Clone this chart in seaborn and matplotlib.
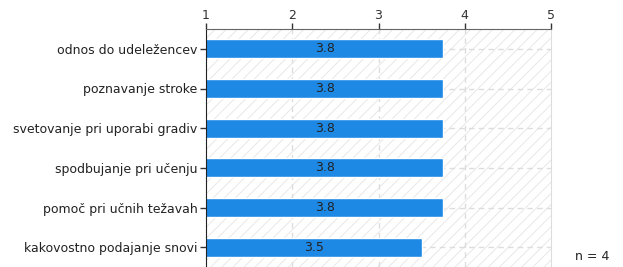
import matplotlib
matplotlib.use("Agg")
import matplotlib.pyplot as plt
import seaborn as sns
import pandas as pd
from matplotlib.patches import Rectangle

categories = ["odnos do udeležencev", "poznavanje stroke", "svetovanje pri uporabi gradiv",
              "spodbujanje pri učenju", "pomoč pri učnih težavah", "kakovostno podajanje snovi"]
values = [3.75, 3.75, 3.75, 3.75, 3.75, 3.5]
x_ticks = [1, 2, 3, 4, 5]
n_label = "n = 4"

sns.set_style("white")
plt.rcParams["font.family"] = ["DejaVu Sans"]
plt.rcParams["hatch.linewidth"] = 0.6
plt.rcParams["hatch.color"] = "#e4e4e4"

df = pd.DataFrame({"kategorija": categories, "vrednost": values})

fig = plt.figure(figsize=(6.23, 2.67), dpi=100)
ax = fig.add_axes([206 / 623, 0.0, 345 / 623, 238 / 267])

# hatched background
ax.add_patch(Rectangle((0, 0), 1, 1, transform=ax.transAxes, facecolor="white",
                       hatch="///", edgecolor="#e4e4e4", linewidth=0, zorder=0))

sns.barplot(data=df, x="vrednost", y="kategorija", orient="h", width=0.48,
            color="#1e88e5", saturation=1, ax=ax, zorder=3)

ax.set_xlim(1, 5)
ax.set_ylim(5.5, -0.5)
ax.xaxis.tick_top()
ax.set_xticks(x_ticks)
ax.set_xlabel("")
ax.set_ylabel("")

for xv in x_ticks[1:-1]:
    ax.axvline(xv, color="#dddddd", lw=1, ls=(0, (4, 3)), zorder=1)
for i in range(len(categories)):
    ax.axhline(i, color="#dddddd", lw=1, ls=(0, (4, 3)), zorder=1)

for s in ["bottom"]:
    ax.spines[s].set_visible(False)
ax.spines["right"].set_color("#dddddd")
ax.spines["top"].set_color("#666666")
ax.spines["left"].set_color("#222222")
for sp in ax.spines.values():
    sp.set_zorder(5)

ax.tick_params(axis="x", top=True, length=4, width=1, color="#333333",
               labelsize=9, labelcolor="#333333", pad=1)
ax.tick_params(axis="y", left=True, length=4, width=1, color="#333333",
               labelsize=9, labelcolor="#222222", pad=2)

ax.bar_label(ax.containers[0], fmt="{:.1f}", label_type="center",
             fontsize=9, color="#222222", zorder=6)

fig.text(0.978, 0.015, n_label, ha="right", va="bottom", fontsize=9, color="#222222")

fig.savefig("out.png", dpi=100)
